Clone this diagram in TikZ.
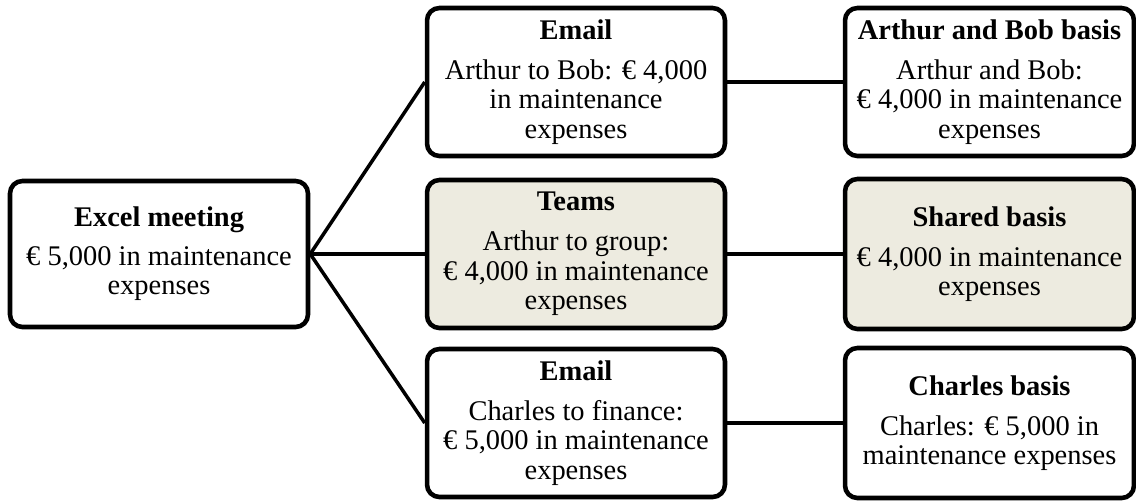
\documentclass[tikz,border=0pt]{standalone}
\usepackage{fontspec}
\setmainfont{Liberation Serif}
\definecolor{boxfill}{HTML}{EDEBE0}
\tikzset{
  box/.style={draw, rounded corners=7pt, line width=2.6pt, minimum width=5.96cm,
    minimum height=2.96cm, align=center, inner sep=1pt,
    font=\fontsize{16.2}{16.8}\selectfont},
  basisbox/.style={box, minimum width=5.78cm, minimum height=3cm},
  shaded/.style={fill=boxfill},
  link/.style={line width=2pt}
}

\begin{document}
\begin{tikzpicture}[x=0.02cm, y=-0.02cm]
        \useasboundingbox (0,0) rectangle (1136,501);

        \node[box, minimum height=2.92cm] (excel) at (159,254) {\textbf{Excel meeting}\\[5pt]€ 5,000 in maintenance\\expenses};

        \node[box] (email1) at (576,82) {\textbf{Email}\\[6pt]Arthur to Bob: € 4,000\\in maintenance\\expenses};
        \node[box, shaded] (teams) at (576,254) {\textbf{Teams}\\[6pt]Arthur to group:\\€ 4,000 in maintenance\\expenses};
        \node[box] (email2) at (576,423) {\textbf{Email}\\[6pt]Charles to finance:\\€ 5,000 in maintenance\\expenses};

        \node[basisbox, minimum height=2.96cm] (ab) at (989.5,82) {\textbf{Arthur and Bob basis}\\[6pt]Arthur and Bob:\\€ 4,000 in maintenance\\expenses};
        \node[basisbox, shaded] (shared) at (989.5,254) {\textbf{Shared basis}\\[6pt]€ 4,000 in maintenance\\expenses};
        \node[basisbox] (charles) at (989.5,423) {\textbf{Charles basis}\\[6pt]Charles: € 5,000 in\\maintenance expenses};

        \draw[link] (excel.east) -- (email1.west);
        \draw[link] (excel.east) -- (teams.west);
        \draw[link] (excel.east) -- (email2.west);
        \draw[link] (email1) -- (ab);
        \draw[link] (teams) -- (shared);
        \draw[link] (email2) -- (charles);
    \end{tikzpicture}
\end{document}
